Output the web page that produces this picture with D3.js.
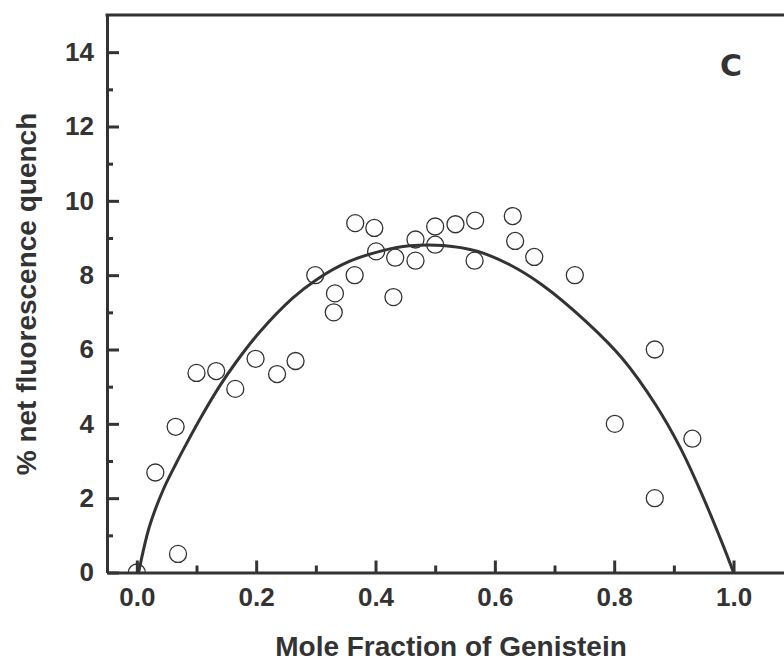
<!DOCTYPE html>
<html>
<head>
<meta charset="utf-8">
<script src="https://cdn.jsdelivr.net/npm/d3@7"></script>
<style>
    body { margin: 0; background: #fff; }
    svg { display: block; }
</style>
</head>
<body>
<div id="chart"></div>
<script>
// measured points (mole fraction of genistein, % quench)
const moleFraction = [
    0.0, 0.031, 0.065, 0.069, 0.100, 0.133, 0.165, 0.199, 0.235, 0.266,
    0.299, 0.332, 0.330, 0.366, 0.365, 0.398, 0.401, 0.433, 0.430, 0.467,
    0.467, 0.500, 0.500, 0.534, 0.567, 0.566, 0.630, 0.634, 0.666, 0.734,
    0.801, 0.868, 0.868, 0.931
]
const quench = [
    0.0, 2.69, 3.92, 0.50, 5.37, 5.42, 4.94, 5.75, 5.34, 5.69,
    8.00, 7.51, 7.00, 9.40, 8.00, 9.27, 8.64, 8.47, 7.41, 8.96,
    8.39, 9.31, 8.82, 9.37, 9.47, 8.39, 9.59, 8.92, 8.49, 8.00,
    4.00, 6.00, 2.00, 3.60
]

// fitted curve
const fitX = [0.003, 0.021, 0.044, 0.066, 0.083, 0.108, 0.139, 0.165, 0.206, 0.261,
    0.301, 0.356, 0.412, 0.457, 0.513, 0.569, 0.625, 0.680, 0.753, 0.814,
    0.870, 0.910, 0.943, 0.982, 1.0]
const fitY = [0.0, 1.23, 2.22, 2.94, 3.46, 4.19, 5.02, 5.63, 6.47, 7.38,
    7.88, 8.37, 8.66, 8.79, 8.80, 8.65, 8.28, 7.73, 6.75, 5.75,
    4.50, 3.38, 2.25, 0.75, 0.0]

const xTicks = [0.0, 0.2, 0.4, 0.6, 0.8, 1.0]
const xMinorTicks = [0.1, 0.3, 0.5, 0.7, 0.9]
const yTicks = [0, 2, 4, 6, 8, 10, 12, 14]
const yMinorTicks = [1, 3, 5, 7, 9, 11, 13]

const ink = "#333"
const font = "'Liberation Sans', Arial, sans-serif"

const width = 784
const height = 661
const marginLeft = 107, marginTop = 15, axisBottom = 572.5

const x = d3.scaleLinear([-0.05, 1.1], [marginLeft, marginLeft + 1.15 * 596.7])
const y = d3.scaleLinear([0, 15], [axisBottom, marginTop])

const svg = d3.select("#chart").append("svg")
    .attr("width", width)
    .attr("height", height)
    .attr("viewBox", [0, 0, width, height])

svg.append("defs").append("clipPath")
    .attr("id", "plot")
    .append("rect")
    .attr("x", marginLeft)
    .attr("y", marginTop)
    .attr("width", x.range()[1] - marginLeft)
    .attr("height", axisBottom - marginTop)

// fitted line
const line = d3.line()
    .x(i => x(fitX[i]))
    .y(i => y(fitY[i]))
    .curve(d3.curveCatmullRom.alpha(0.5))

svg.append("path")
    .attr("clip-path", "url(#plot)")
    .attr("d", line(d3.range(fitX.length)))
    .attr("fill", "none")
    .attr("stroke", ink)
    .attr("stroke-width", 3)

// open circles
svg.append("g")
    .attr("clip-path", "url(#plot)")
    .selectAll("circle")
    .data(d3.range(moleFraction.length))
    .join("circle")
    .attr("cx", i => x(moleFraction[i]))
    .attr("cy", i => y(quench[i]))
    .attr("r", 8.5)
    .attr("fill", "none")
    .attr("stroke", ink)
    .attr("stroke-width", 1.3)

// minor ticks first, then the labelled axes on top
svg.append("g")
    .attr("transform", `translate(0,${axisBottom})`)
    .call(d3.axisBottom(x).tickValues(xMinorTicks).tickSize(-7).tickSizeOuter(0).tickFormat(""))
    .call(g => g.select(".domain").remove())

svg.append("g")
    .attr("transform", `translate(${marginLeft},0)`)
    .call(d3.axisLeft(y).tickValues(yMinorTicks).tickSize(-6).tickSizeOuter(0).tickFormat(""))
    .call(g => g.select(".domain").remove())

svg.append("g")
    .attr("transform", `translate(0,${axisBottom})`)
    .call(d3.axisBottom(x).tickValues(xTicks).tickSize(-12).tickSizeOuter(0)
        .tickPadding(15).tickFormat(d3.format(".1f")))

svg.append("g")
    .attr("transform", `translate(${marginLeft},0)`)
    .call(d3.axisLeft(y).tickValues(yTicks).tickSize(-12).tickSizeOuter(0)
        .tickPadding(13).tickFormat(d3.format("d")))

svg.selectAll(".tick line")
    .attr("stroke", ink)
    .attr("stroke-width", 3)
svg.selectAll(".domain")
    .attr("stroke", ink)
    .attr("stroke-width", 3)
svg.selectAll(".tick text")
    .attr("fill", ink)
    .style("font-family", font)
    .style("font-weight", "bold")
    .style("font-size", "26px")

// top frame line
svg.append("line")
    .attr("x1", marginLeft - 1.5)
    .attr("x2", x.range()[1])
    .attr("y1", marginTop)
    .attr("y2", marginTop)
    .attr("stroke", ink)
    .attr("stroke-width", 3)

svg.append("text")
    .attr("x", 451)
    .attr("y", 656)
    .attr("text-anchor", "middle")
    .attr("fill", ink)
    .style("font-family", font)
    .style("font-weight", "bold")
    .style("font-size", "28px")
    .text("Mole Fraction of Genistein")

svg.append("text")
    .attr("transform", "translate(36,294) rotate(-90)")
    .attr("text-anchor", "middle")
    .attr("fill", ink)
    .style("font-family", font)
    .style("font-weight", "bold")
    .style("font-size", "28px")
    .text("% net fluorescence quench")

svg.append("text")
    .attr("x", 731)
    .attr("y", 76)
    .attr("text-anchor", "middle")
    .attr("fill", ink)
    .style("font-family", "'DejaVu Sans', sans-serif")
    .style("font-weight", "bold")
    .style("font-size", "30px")
    .text("C")
</script>
</body>
</html>
